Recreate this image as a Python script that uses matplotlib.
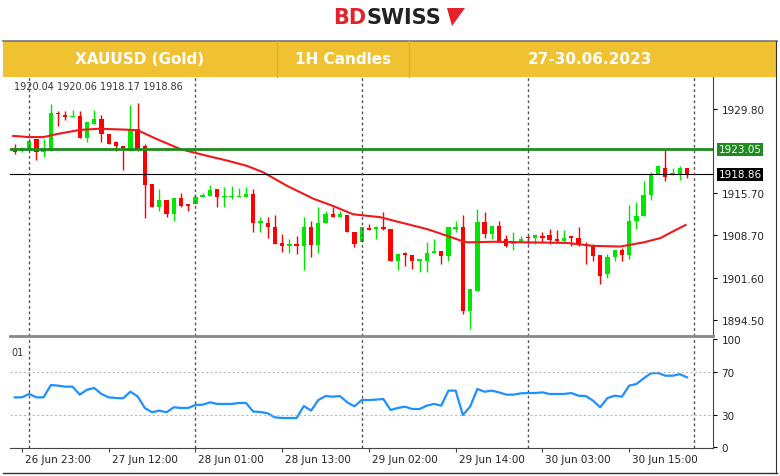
import matplotlib
matplotlib.use("Agg")
import matplotlib.pyplot as plt
import numpy as np
from matplotlib.patches import Rectangle, Polygon

opens = [1923.2,1922.8,1923.1,1924.7,1922.6,1922.7,1929.2,1928.8,1928.4,1928.6,
         1924.9,1927.3,1928.1,1925.6,1924.2,1923.6,1922.8,1926.5,1923.6,1917.3,
         1913.4,1914.6,1912.2,1914.9,1913.9,1913.9,1915.0,1915.3,1916.4,1915.0,
         1915.0,1915.0,1915.0,1915.6,1910.8,1910.8,1910.0,1907.4,1906.9,1907.2,
         1906.9,1910.0,1907.1,1910.8,1912.2,1911.7,1912.0,1909.3,1907.5,1909.8,
         1909.8,1910.1,1909.8,1904.4,1905.7,1905.4,1904.4,1904.4,1905.7,1906.1,
         1905.3,1909.8,1910.0,1896.1,1899.4,1910.9,1908.9,1910.3,1908.1,1907.2,
         1907.8,1908.3,1908.2,1908.6,1908.7,1908.1,1907.8,1908.5,1908.3,1907.2,
         1907.1,1905.4,1902.2,1905.1,1906.2,1905.4,1911.0,1911.9,1915.4,1918.9,
         1920.0,1918.7,1918.8,1920.0]
highs = [1923.9,1923.5,1924.5,1924.7,1924.8,1930.6,1929.5,1929.5,1929.7,1929.5,
         1927.6,1929.7,1928.8,1925.6,1924.5,1923.6,1930.5,1930.8,1923.9,1917.3,
         1916.5,1914.6,1914.9,1915.8,1913.9,1915.6,1915.8,1917.1,1916.4,1916.7,
         1916.9,1916.6,1916.7,1916.4,1911.7,1911.7,1912.0,1908.9,1908.1,1908.6,
         1911.7,1911.0,1913.4,1912.8,1913.4,1912.8,1912.0,1909.3,1910.0,1910.6,
         1910.3,1912.6,1909.8,1905.6,1905.9,1905.4,1904.7,1907.5,1908.1,1906.1,
         1910.0,1911.0,1912.1,1899.7,1913.1,1912.6,1910.3,1911.0,1908.7,1909.2,
         1908.5,1908.7,1908.7,1909.3,1909.7,1909.5,1909.5,1908.5,1910.0,1907.5,
         1907.3,1905.4,1905.6,1906.3,1906.5,1913.7,1914.3,1917.8,1919.3,1920.4,
         1923.0,1920.0,1920.2,1920.0]
lows = [1922.3,1922.6,1922.8,1921.2,1921.7,1922.7,1927.0,1928.0,1928.4,1924.9,
        1924.2,1927.3,1924.2,1923.9,1922.8,1919.6,1922.8,1922.7,1911.5,1913.4,
        1912.8,1911.7,1911.0,1913.4,1912.8,1913.9,1915.0,1915.3,1913.4,1913.4,
        1914.8,1915.0,1915.0,1909.2,1909.2,1908.3,1907.2,1905.9,1905.8,1905.6,
        1902.8,1905.0,1905.8,1910.8,1911.7,1911.7,1909.2,1906.8,1907.5,1909.5,
        1908.0,1909.5,1904.4,1902.8,1903.6,1903.0,1902.6,1902.5,1905.7,1903.9,
        1904.4,1909.2,1895.5,1893.0,1899.4,1908.3,1908.1,1907.6,1906.7,1906.2,
        1907.5,1907.2,1907.2,1907.5,1907.2,1907.5,1907.4,1906.9,1906.9,1903.9,
        1904.3,1900.5,1901.5,1904.3,1904.4,1904.7,1909.7,1911.9,1914.5,1918.9,
        1917.8,1918.7,1918.0,1918.2]
closes = [1922.6,1923.2,1924.5,1922.6,1923.2,1929.1,1928.9,1928.4,1928.6,1924.9,
          1927.6,1928.1,1925.6,1923.9,1923.6,1923.2,1926.3,1923.1,1917.1,1913.4,
          1914.6,1912.2,1914.9,1913.6,1913.6,1915.0,1915.4,1916.3,1915.0,1915.3,
          1915.3,1915.3,1915.6,1910.8,1911.0,1910.0,1907.2,1906.9,1907.2,1906.9,
          1910.0,1907.1,1910.8,1912.2,1911.7,1912.2,1909.2,1907.2,1910.0,1909.6,
          1910.1,1909.8,1904.4,1905.6,1905.4,1904.4,1904.7,1905.7,1906.1,1905.3,
          1910.0,1910.1,1896.1,1899.7,1910.9,1908.9,1910.3,1907.8,1906.9,1907.6,
          1908.1,1908.2,1908.7,1908.3,1907.9,1907.8,1908.3,1908.2,1907.1,1906.9,
          1905.3,1901.9,1905.1,1906.3,1905.4,1911.0,1911.9,1915.4,1918.9,1920.2,
          1918.5,1919.1,1920.0,1918.86]

ma_pos = [-0.2,2,4,5.8,9,11.8,16.4,17.1,19.6,22.9,26.5,29.3,32.1,34.4,37.6,41.3,44,46.8,
          50.6,52.5,57.1,59.8,61.7,62.6,66.3,70.9,76.4,80.1,83.8,84.7,87,89.3,90.7,92.8]
ma_val = [1925.3,1925.1,1925.1,1925.6,1926.3,1926.5,1926.3,1926.2,1924.8,1923.1,1922.0,
          1921.2,1920.3,1919.2,1917.0,1914.8,1913.6,1912.2,1911.7,1911.1,1909.7,1908.6,
          1907.8,1907.5,1907.6,1907.5,1907.4,1906.9,1906.8,1907.0,1907.5,1908.2,1909.1,1910.4]

rsi = [46.3,46.3,49.4,46.3,46.3,57.7,57.1,56.2,56.2,48.8,53.4,54.9,49.4,46.3,45.7,45.4,
       51.5,47.2,36.5,32.5,34.0,32.5,37.1,36.5,36.5,39.2,39.5,41.7,40.2,40.2,40.2,41.1,
       41.1,33.1,32.8,31.5,27.8,27.2,27.2,27.2,38.3,34.0,43.8,47.5,46.9,47.5,41.7,38.0,
       43.8,43.8,44.2,44.8,34.6,36.5,37.7,35.5,35.5,38.6,40.2,38.6,52.5,52.5,30.0,37.7,
       54.0,51.5,52.5,50.9,48.8,48.8,50.0,50.3,50.3,50.9,49.4,49.4,49.4,50.3,47.8,47.5,
       43.2,37.1,45.7,47.8,46.9,57.1,58.6,63.8,68.5,68.8,66.3,66.3,67.7,64.8]

price_ticks = [1929.80, 1915.70, 1908.70, 1901.60, 1894.50]
resistance = 1923.05
last_price = 1918.86
ohlc_header = "1920.04 1920.06 1918.17 1918.86"
rsi_ticks = [100, 70, 30, 0]
time_labels = ["26 Jun 23:00","27 Jun 12:00","28 Jun 01:00","28 Jun 13:00",
               "29 Jun 02:00","29 Jun 14:00","30 Jun 03:00","30 Jun 15:00"]
time_pos = [1,13,25,37,49,61,73,85]
day_sep = [2,25,48,71,94]
header = ["XAUUSD (Gold)", "1H Candles", "27-30.06.2023"]

W, H = 780, 477
fig = plt.figure(figsize=(7.8, 4.77), dpi=100)
fig.patch.set_facecolor("white")
def fx(x): return x / W
def fy(y): return 1 - y / H

# header
fig.patches.append(Rectangle((fx(3), fy(78)), fx(774), fy(42)-fy(78), transform=fig.transFigure,
                             facecolor="#F0C232", edgecolor="none"))
fig.lines.append(plt.Line2D([fx(3), fx(777)], [fy(42), fy(42)], transform=fig.transFigure, color="#777777", lw=1.2))
for xs in [277, 409]:
    fig.lines.append(plt.Line2D([fx(xs), fx(xs)], [fy(42), fy(78)], transform=fig.transFigure, color="#E0B020", lw=1))
for t, xc in zip(header, [140, 343, 590]):
    fig.text(fx(xc), fy(60), t, color="white", fontsize=11, fontweight="bold", ha="center", va="center")
fig.text(fx(366), fy(18), "BD", color="#E32229", fontsize=15, fontweight="bold", ha="right", va="center")
fig.text(fx(366), fy(18), "SWISS", color="#222222", fontsize=15, fontweight="bold", ha="left", va="center")
fig.patches.append(Polygon([(fx(447), fy(9)), (fx(465), fy(9)), (fx(452), fy(27))], closed=True,
                           transform=fig.transFigure, facecolor="#E32229", edgecolor="none"))

xl = (-0.65, 96.6)
ax = fig.add_axes([fx(10), fy(337), fx(713)-fx(10), fy(78)-fy(337)])
ax2 = fig.add_axes([fx(10), fy(449), fx(713)-fx(10), fy(340)-fy(449)])

x = np.arange(len(opens))
o = np.array(opens); c = np.array(closes); h = np.array(highs); l = np.array(lows)
up = c >= o
cols = np.where(up, "#00E600", "#FF0000")
ax.vlines(x, l, h, colors=cols, lw=1)
bottom = np.minimum(o, c)
height = np.maximum(np.abs(c - o), 0.25)
ax.bar(x, height, bottom=bottom, width=0.6, color=cols, edgecolor=cols, lw=0)
ax.plot(ma_pos, ma_val, color="#F01818", lw=1.5)
ax.axhline(resistance, color="#1E8C1E", lw=2)
ax.axhline(last_price, color="black", lw=0.8)
for d in day_sep:
    ax.axvline(d, color="#555555", lw=1, ls=(0, (2, 2)))
    ax2.axvline(d, color="#555555", lw=1, ls=(0, (2, 2)))
ax.set_xlim(*xl)
ax.set_ylim(1891.84, 1935.15)
ax.set_xticks([])
ax.yaxis.tick_right()
ax.set_yticks(price_ticks)
ax.set_yticklabels([f"{v:.2f}" for v in price_ticks], fontsize=7.5, color="#222222")
ax.tick_params(axis="y", length=3, width=0.8, pad=3)
for s in ["top", "left"]:
    ax.spines[s].set_visible(False)
ax.spines["right"].set_color("#444444")
ax.spines["bottom"].set_color("#888888"); ax.spines["bottom"].set_linewidth(2)
ax.text(1.008, resistance, f"{resistance:.2f}", transform=ax.get_yaxis_transform(), fontsize=7.5,
        color="white", va="center", ha="left",
        bbox=dict(boxstyle="square,pad=0.15", facecolor="#1E8C1E", edgecolor="none"))
ax.text(1.008, last_price, f"{last_price:.2f}", transform=ax.get_yaxis_transform(), fontsize=7.5,
        color="white", va="center", ha="left",
        bbox=dict(boxstyle="square,pad=0.15", facecolor="black", edgecolor="none"))
ax.text(0.006, 0.985, ohlc_header, transform=ax.transAxes,
        fontsize=7, color="#333333", va="top", ha="left")

ax2.plot(x, rsi, color="#1E90FF", lw=1.6)
for v in [70, 30]:
    ax2.axhline(v, color="#BBBBBB", lw=0.8, ls=(0, (2, 2)))
ax2.set_xlim(*xl)
ax2.set_ylim(-0.5, 100.2)
ax2.yaxis.tick_right()
ax2.set_yticks(rsi_ticks)
ax2.set_yticklabels([str(v) for v in rsi_ticks], fontsize=7.5, color="#222222")
ax2.tick_params(axis="y", length=3, pad=3)
ax2.set_xticks(time_pos)
ax2.set_xticklabels([])
ax2.tick_params(axis="x", length=3, color="#444444")
for p, t in zip(time_pos, time_labels):
    ax2.text(p + 0.4, -6, t, fontsize=7.5, color="#222222", ha="left", va="top",
             transform=ax2.transData, clip_on=False)
ax2.spines["top"].set_visible(False); ax2.spines["left"].set_visible(False)
ax2.spines["right"].set_color("#444444"); ax2.spines["bottom"].set_color("#444444")
ax2.text(0.002, 0.93, "01", transform=ax2.transAxes, fontsize=7, color="#333333", va="top")

fig.lines.append(plt.Line2D([fx(3), fx(777)], [fy(474), fy(474)], transform=fig.transFigure, color="#333333", lw=1))
fig.lines.append(plt.Line2D([fx(776), fx(776)], [fy(42), fy(474)], transform=fig.transFigure, color="#333333", lw=0.8))

fig.savefig("out.png", dpi=100)
